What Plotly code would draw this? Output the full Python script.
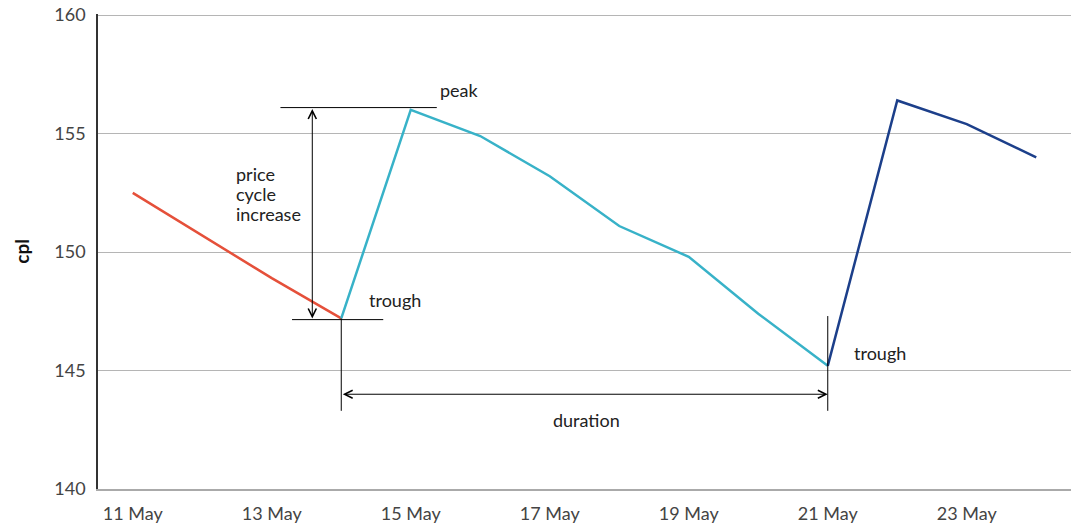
import plotly.graph_objects as go

# Data (cpl by day)
red_dates = ["2023-05-11", "2023-05-12", "2023-05-13", "2023-05-14"]
red_vals = [152.5, 150.7, 148.9, 147.2]

cyan_dates = ["2023-05-14", "2023-05-15", "2023-05-16", "2023-05-17",
              "2023-05-18", "2023-05-19", "2023-05-20", "2023-05-21"]
cyan_vals = [147.2, 156.0, 154.9, 153.2, 151.1, 149.8, 147.4, 145.2]

navy_dates = ["2023-05-21", "2023-05-22", "2023-05-23", "2023-05-24"]
navy_vals = [145.2, 156.4, 155.4, 154.0]

trough1_date, trough1_val = cyan_dates[0], cyan_vals[0]
peak_date, peak_val = cyan_dates[1], cyan_vals[1]
trough2_date, trough2_val = cyan_dates[-1], cyan_vals[-1]
duration_level = 144.0
guide_bottom = 143.3

font = "Lato"
txt_color = "#222222"
note_font = dict(size=18, color=txt_color, family=font)

fig = go.Figure()
fig.add_trace(go.Scatter(x=red_dates, y=red_vals, mode="lines",
                         line=dict(color="#E5503A", width=2.5), showlegend=False))
fig.add_trace(go.Scatter(x=cyan_dates, y=cyan_vals, mode="lines",
                         line=dict(color="#38B2C8", width=2.5), showlegend=False))
fig.add_trace(go.Scatter(x=navy_dates, y=navy_vals, mode="lines",
                         line=dict(color="#1C3F8A", width=2.5), showlegend=False))

line_style = dict(color="black", width=1)
shapes = [
    # peak level line
    dict(type="line", xref="x", yref="y", x0="2023-05-13 03:00", x1="2023-05-15 09:00",
         y0=peak_val + 0.1, y1=peak_val + 0.1, line=line_style),
    # trough level line
    dict(type="line", xref="x", yref="y", x0="2023-05-13 07:00", x1="2023-05-14 14:30",
         y0=trough1_val - 0.05, y1=trough1_val - 0.05, line=line_style),
    # duration guides
    dict(type="line", xref="x", yref="y", x0=trough1_date, x1=trough1_date,
         y0=guide_bottom, y1=trough1_val, line=line_style),
    dict(type="line", xref="x", yref="y", x0=trough2_date, x1=trough2_date,
         y0=guide_bottom, y1=147.3, line=line_style),
]

annotations = [
    # vertical double arrow (price cycle increase)
    dict(x="2023-05-13 14:00", y=trough1_val, ax="2023-05-13 14:00", ay=peak_val + 0.1,
         xref="x", yref="y", axref="x", ayref="y", text="", showarrow=True,
         arrowhead=5, startarrowhead=5, arrowside="end+start", arrowsize=1.6,
         arrowwidth=1, arrowcolor="black", standoff=0, startstandoff=0),
    # horizontal double arrow (duration)
    dict(x=trough2_date, y=duration_level, ax=trough1_date, ay=duration_level,
         xref="x", yref="y", axref="x", ayref="y", text="", showarrow=True,
         arrowhead=5, startarrowhead=5, arrowside="end+start", arrowsize=1.6,
         arrowwidth=1, arrowcolor="black", standoff=0, startstandoff=0),
    dict(x="2023-05-15 09:20", y=156.84, text="peak", showarrow=False,
         xanchor="left", yanchor="middle", font=note_font),
    dict(x="2023-05-12 10:50", y=153.3, text="price", showarrow=False,
         xanchor="left", yanchor="middle", font=note_font),
    dict(x="2023-05-12 10:50", y=152.46, text="cycle", showarrow=False,
         xanchor="left", yanchor="middle", font=note_font),
    dict(x="2023-05-12 10:50", y=151.62, text="increase", showarrow=False,
         xanchor="left", yanchor="middle", font=note_font),
    dict(x="2023-05-14 09:00", y=147.96, text="trough", showarrow=False,
         xanchor="left", yanchor="middle", font=note_font),
    dict(x="2023-05-21 08:20", y=145.73, text="trough", showarrow=False,
         xanchor="left", yanchor="middle", font=note_font),
    dict(x="2023-05-17 12:40", y=142.9, text="duration", showarrow=False,
         xanchor="center", yanchor="middle", font=note_font),
    # y-axis label
    dict(x=-0.079, y=0.5, xref="paper", yref="paper", text="<b>cpl</b>", textangle=-90,
         showarrow=False, xanchor="center", yanchor="middle",
         font=dict(size=19, color="#111111", family=font)),
]

fig.update_layout(
    width=1071,
    height=524,
    margin=dict(l=98, r=0, t=14, b=35),
    plot_bgcolor="white",
    paper_bgcolor="white",
    font=dict(family=font, size=18, color="#444444"),
    shapes=shapes,
    annotations=annotations,
    showlegend=False,
)
fig.update_xaxes(
    type="date",
    range=["2023-05-10 12:00", "2023-05-24 12:00"],
    tick0="2023-05-11",
    dtick=2 * 86400000,
    tickformat="%-d %b",
    showgrid=False,
    showline=True,
    linecolor="#aaaaaa",
    linewidth=1.5,
    ticks="",
    ticklabelstandoff=8,
    zeroline=False,
    automargin=False,
)
fig.update_yaxes(
    range=[140, 160.05],
    dtick=5,
    showgrid=True,
    gridcolor="#b5b5b5",
    gridwidth=1,
    showline=True,
    linecolor="#333333",
    linewidth=1.5,
    ticks="",
    ticklabelstandoff=7,
    ticklabeloverflow="allow",
    zeroline=False,
    automargin=False,
)

# drop the page's default body margin so the figure fills the window exactly
fig.write_html("out.html", config={"displayModeBar": False},
               post_script="document.body.style.margin='0';")
